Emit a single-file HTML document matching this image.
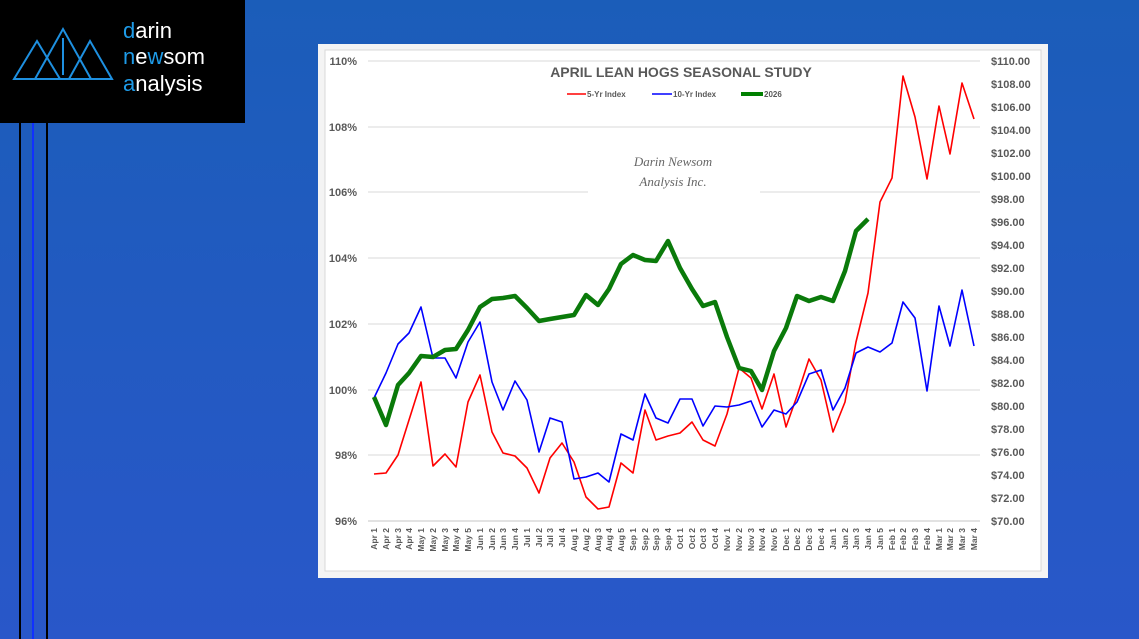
<!DOCTYPE html>
<html><head><meta charset="utf-8"><style>
html,body{margin:0;padding:0;width:1139px;height:639px;overflow:hidden;background:linear-gradient(#1a5cb8,#2a58c8);font-family:"Liberation Sans",sans-serif}
</style></head><body>
<svg width="1139" height="639" viewBox="0 0 1139 639" xmlns="http://www.w3.org/2000/svg" style="position:absolute;left:0;top:0">
<defs><linearGradient id="bg" x1="0" y1="0" x2="0" y2="1"><stop offset="0" stop-color="#1b5db9"/><stop offset="1" stop-color="#2957c9"/></linearGradient></defs>
<rect width="1139" height="639" fill="url(#bg)"/>
<line x1="20" y1="120" x2="20" y2="639" stroke="#000" stroke-width="2"/>
<line x1="33" y1="120" x2="33" y2="639" stroke="#1030ff" stroke-width="2"/>
<line x1="47" y1="120" x2="47" y2="639" stroke="#000" stroke-width="2"/>
<rect x="0" y="0" width="245" height="123" fill="#000"/>
<g fill="none" stroke="#1e90e0" stroke-width="2">
<polygon points="14,79 37,41 60,79"/><polygon points="35,79 63,29 91,79"/><polygon points="69,79 90,41 112,79"/>
<line x1="63" y1="38" x2="63" y2="75"/>
</g>
<text x="123" y="38" font-size="22" fill="#fff"><tspan fill="#1e9be8">d</tspan>arin</text>
<text x="123" y="64" font-size="22" fill="#fff"><tspan fill="#1e9be8">n</tspan>e<tspan fill="#1e9be8">w</tspan>som</text>
<text x="123" y="91" font-size="22" fill="#fff"><tspan fill="#1e9be8">a</tspan>nalysis</text>

<rect x="318" y="44" width="730" height="534" fill="#f4f4f4"/>
<rect x="325" y="50" width="716" height="521" fill="#fff" stroke="#d9d9d9"/>
<g stroke="#d9d9d9" stroke-width="1">
<line x1="368" y1="61" x2="980" y2="61"/><line x1="368" y1="127" x2="980" y2="127"/>
<line x1="368" y1="192" x2="588" y2="192"/><line x1="760" y1="192" x2="980" y2="192"/>
<line x1="368" y1="258" x2="980" y2="258"/><line x1="368" y1="324" x2="980" y2="324"/>
<line x1="368" y1="390" x2="980" y2="390"/><line x1="368" y1="455" x2="980" y2="455"/>
<line x1="368" y1="521" x2="980" y2="521" stroke-width="1.5"/>
</g>
<g font-size="11" font-weight="bold" fill="#595959" text-anchor="end">
<text x="357" y="65">110%</text><text x="357" y="131">108%</text><text x="357" y="196">106%</text><text x="357" y="262">104%</text><text x="357" y="328">102%</text><text x="357" y="394">100%</text><text x="357" y="459">98%</text><text x="357" y="525">96%</text>
</g>
<g font-size="11" font-weight="bold" fill="#595959">
<text x="991" y="65">$110.00</text><text x="991" y="88">$108.00</text><text x="991" y="111">$106.00</text><text x="991" y="134">$104.00</text><text x="991" y="157">$102.00</text><text x="991" y="180">$100.00</text><text x="991" y="203">$98.00</text><text x="991" y="226">$96.00</text><text x="991" y="249">$94.00</text><text x="991" y="272">$92.00</text><text x="991" y="295">$90.00</text><text x="991" y="318">$88.00</text><text x="991" y="341">$86.00</text><text x="991" y="364">$84.00</text><text x="991" y="387">$82.00</text><text x="991" y="410">$80.00</text><text x="991" y="433">$78.00</text><text x="991" y="456">$76.00</text><text x="991" y="479">$74.00</text><text x="991" y="502">$72.00</text><text x="991" y="525">$70.00</text>
</g>
<text x="681" y="77" font-size="14" font-weight="bold" fill="#595959" text-anchor="middle">APRIL LEAN HOGS SEASONAL STUDY</text>
<g font-size="8" font-weight="bold" fill="#595959">
<line x1="567" y1="94" x2="586" y2="94" stroke="#f00" stroke-width="1.5"/><text x="587" y="97">5-Yr Index</text>
<line x1="652" y1="94" x2="672" y2="94" stroke="#00f" stroke-width="1.5"/><text x="673" y="97">10-Yr Index</text>
<line x1="741" y1="94" x2="763" y2="94" stroke="#008000" stroke-width="4"/><text x="764" y="97">2026</text>
</g>
<text x="673" y="166" font-family="Liberation Serif,serif" font-style="italic" font-size="13" fill="#666" text-anchor="middle">Darin Newsom</text>
<text x="673" y="186" font-family="Liberation Serif,serif" font-style="italic" font-size="13" fill="#666" text-anchor="middle">Analysis Inc.</text>

<polyline fill="none" stroke="#f00" stroke-width="1.6" stroke-linejoin="round" points="374,474 386,473 398,455 409,420 421,382 433,466 445,454 456,467 468,402 480,375 492,432 503,453 515,456 527,468 539,493 550,458 562,443 574,462 586,497 598,509 609,507 621,463 633,473 645,410 656,440 668,436 680,433 692,422 703,440 715,446 727,414 739,368 751,378 762,409 774,374 786,427 797,396 809,359 821,380 833,432 845,402 856,342 868,293 880,202 892,178 903,76 915,117 927,179 939,106 950,154 962,83 974,119"/>
<polyline fill="none" stroke="#00f" stroke-width="1.6" stroke-linejoin="round" points="374,398 386,373 398,344 409,333 421,307 433,358 445,358 456,378 468,342 480,322 492,382 503,410 515,381 527,400 539,452 550,418 562,422 574,479 586,477 598,473 609,482 621,434 633,440 645,394 656,418 668,423 680,399 692,399 703,426 715,406 727,407 739,405 751,401 762,427 774,410 786,414 797,402 809,374 821,370 833,410 845,388 856,353 868,347 880,352 892,343 903,302 915,318 927,391 939,306 950,346 962,290 974,346"/>
<polyline fill="none" stroke="#0a7a0a" stroke-width="4.5" stroke-linejoin="round" points="374,397 386,425 398,385 409,373 421,356 433,357 445,350 456,349 468,330 480,307 492,299 503,298 515,296 527,308 539,321 550,319 562,317 574,315 586,295 598,305 609,289 621,264 633,255 645,260 656,261 668,241 680,268 692,289 703,306 715,302 727,337 739,368 751,371 762,390 774,351 786,328 797,296 809,301 821,297 833,301 845,271 856,231 868,219"/>

<g font-size="8.5" font-weight="bold" fill="#595959" text-anchor="end">
<text transform="translate(377,528) rotate(-90)">Apr 1</text><text transform="translate(389,528) rotate(-90)">Apr 2</text><text transform="translate(401,528) rotate(-90)">Apr 3</text><text transform="translate(412,528) rotate(-90)">Apr 4</text><text transform="translate(424,528) rotate(-90)">May 1</text><text transform="translate(436,528) rotate(-90)">May 2</text><text transform="translate(448,528) rotate(-90)">May 3</text><text transform="translate(459,528) rotate(-90)">May 4</text><text transform="translate(471,528) rotate(-90)">May 5</text><text transform="translate(483,528) rotate(-90)">Jun 1</text><text transform="translate(495,528) rotate(-90)">Jun 2</text><text transform="translate(506,528) rotate(-90)">Jun 3</text><text transform="translate(518,528) rotate(-90)">Jun 4</text><text transform="translate(530,528) rotate(-90)">Jul 1</text><text transform="translate(542,528) rotate(-90)">Jul 2</text><text transform="translate(553,528) rotate(-90)">Jul 3</text><text transform="translate(565,528) rotate(-90)">Jul 4</text><text transform="translate(577,528) rotate(-90)">Aug 1</text><text transform="translate(589,528) rotate(-90)">Aug 2</text><text transform="translate(601,528) rotate(-90)">Aug 3</text><text transform="translate(612,528) rotate(-90)">Aug 4</text><text transform="translate(624,528) rotate(-90)">Aug 5</text><text transform="translate(636,528) rotate(-90)">Sep 1</text><text transform="translate(648,528) rotate(-90)">Sep 2</text><text transform="translate(659,528) rotate(-90)">Sep 3</text><text transform="translate(671,528) rotate(-90)">Sep 4</text><text transform="translate(683,528) rotate(-90)">Oct 1</text><text transform="translate(695,528) rotate(-90)">Oct 2</text><text transform="translate(706,528) rotate(-90)">Oct 3</text><text transform="translate(718,528) rotate(-90)">Oct 4</text><text transform="translate(730,528) rotate(-90)">Nov 1</text><text transform="translate(742,528) rotate(-90)">Nov 2</text><text transform="translate(754,528) rotate(-90)">Nov 3</text><text transform="translate(765,528) rotate(-90)">Nov 4</text><text transform="translate(777,528) rotate(-90)">Nov 5</text><text transform="translate(789,528) rotate(-90)">Dec 1</text><text transform="translate(800,528) rotate(-90)">Dec 2</text><text transform="translate(812,528) rotate(-90)">Dec 3</text><text transform="translate(824,528) rotate(-90)">Dec 4</text><text transform="translate(836,528) rotate(-90)">Jan 1</text><text transform="translate(848,528) rotate(-90)">Jan 2</text><text transform="translate(859,528) rotate(-90)">Jan 3</text><text transform="translate(871,528) rotate(-90)">Jan 4</text><text transform="translate(883,528) rotate(-90)">Jan 5</text><text transform="translate(895,528) rotate(-90)">Feb 1</text><text transform="translate(906,528) rotate(-90)">Feb 2</text><text transform="translate(918,528) rotate(-90)">Feb 3</text><text transform="translate(930,528) rotate(-90)">Feb 4</text><text transform="translate(942,528) rotate(-90)">Mar 1</text><text transform="translate(953,528) rotate(-90)">Mar 2</text><text transform="translate(965,528) rotate(-90)">Mar 3</text><text transform="translate(977,528) rotate(-90)">Mar 4</text>
</g>
</svg>
</body></html>
